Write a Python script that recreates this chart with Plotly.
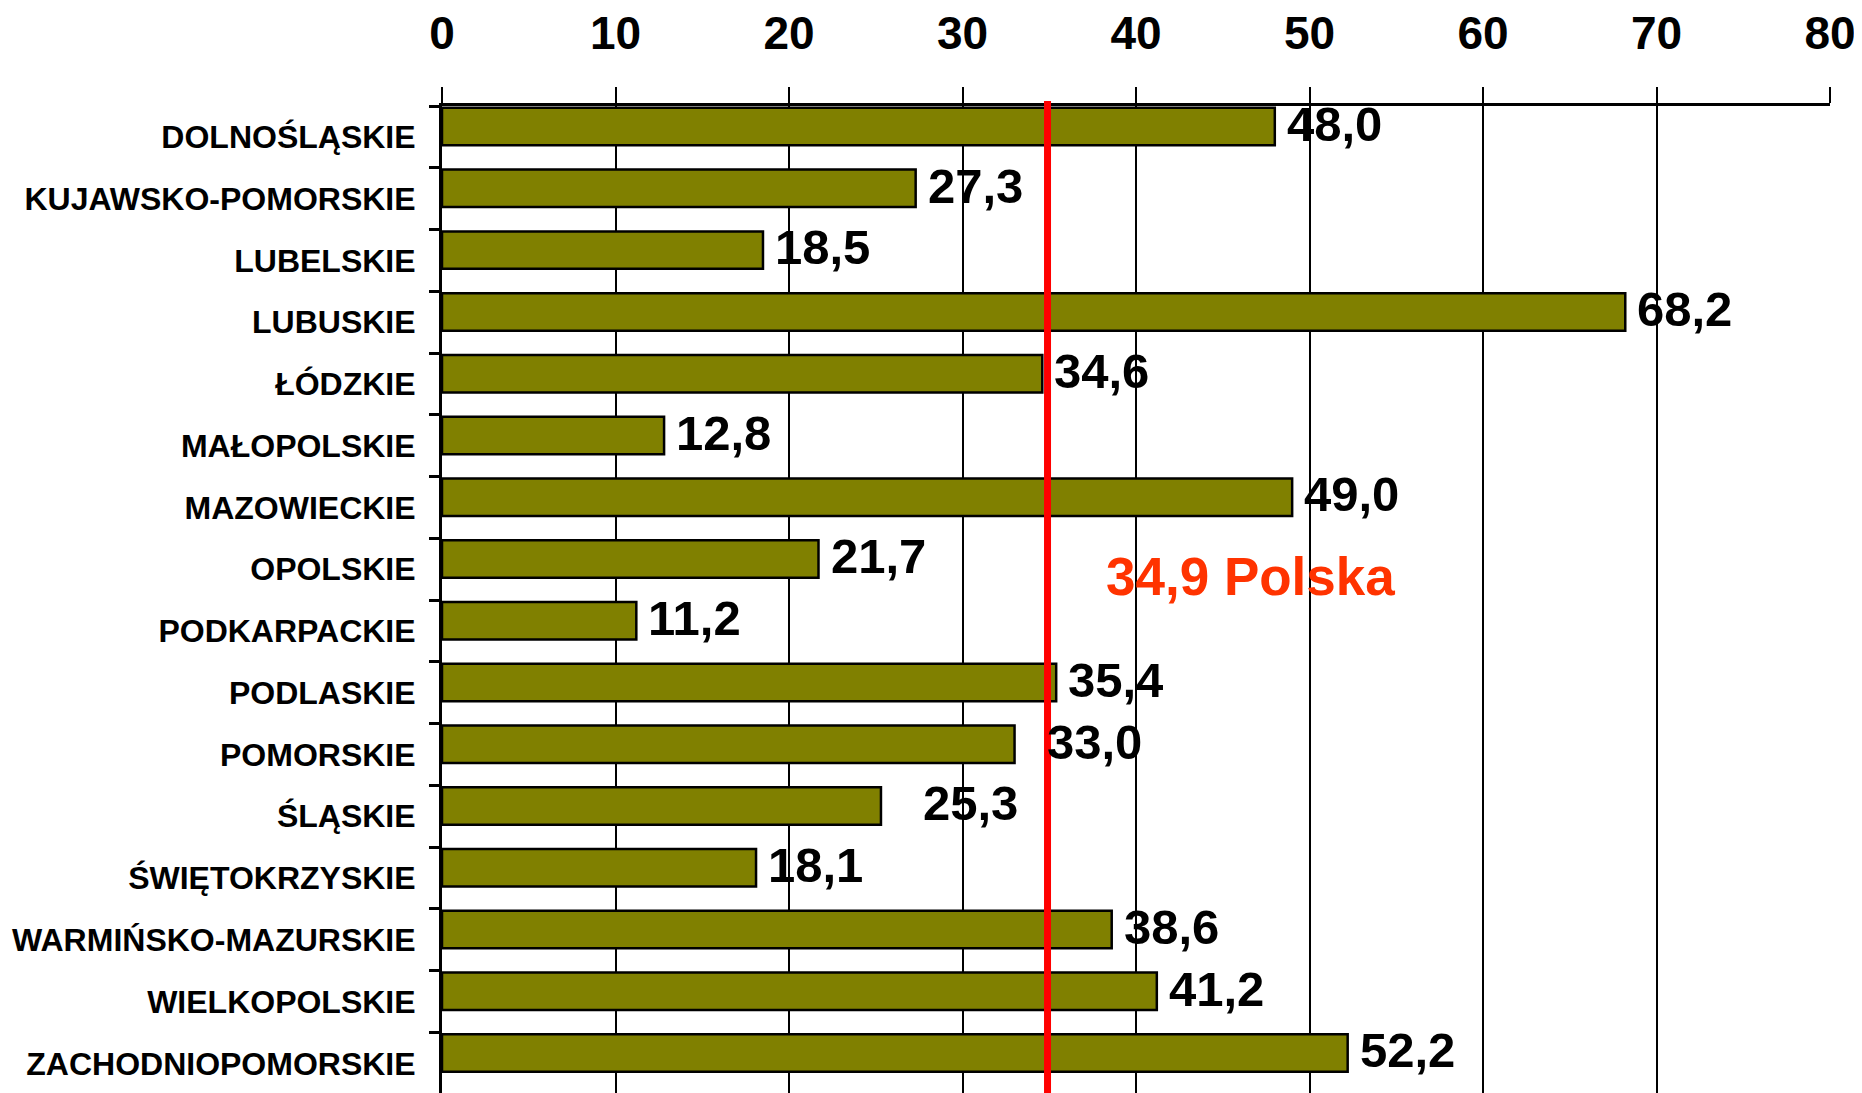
import plotly.graph_objects as go

# dane: odsetek wg województw
wojewodztwa = [
    'DOLNOŚLĄSKIE', 'KUJAWSKO-POMORSKIE', 'LUBELSKIE', 'LUBUSKIE', 'ŁÓDZKIE',
    'MAŁOPOLSKIE', 'MAZOWIECKIE', 'OPOLSKIE', 'PODKARPACKIE', 'PODLASKIE',
    'POMORSKIE', 'ŚLĄSKIE', 'ŚWIĘTOKRZYSKIE', 'WARMIŃSKO-MAZURSKIE',
    'WIELKOPOLSKIE', 'ZACHODNIOPOMORSKIE',
]
wartosci = [48.0, 27.3, 18.5, 68.2, 34.6, 12.8, 49.0, 21.7, 11.2, 35.4,
            33.0, 25.3, 18.1, 38.6, 41.2, 52.2]
polska = 34.9
x_ticks = [0, 10, 20, 30, 40, 50, 60, 70, 80]

# przesuniecia etykiet (px) - dwie etykiety sa odsuniete od slupka
label_shift = {'POMORSKIE': 30, 'ŚLĄSKIE': 40}

FONT = 'Liberation Sans, Arial, sans-serif'

fig = go.Figure(go.Bar(
    x=wartosci, y=wojewodztwa, orientation='h',
    width=0.607, offset=-0.47,
    marker=dict(color='#808000', line=dict(color='black', width=2.5)),
    hoverinfo='x+y',
))

for w, v in zip(wojewodztwa, wartosci):
    fig.add_annotation(
        x=v, y=w, xref='x', yref='y', xanchor='left', yanchor='middle',
        text=f'{v:.1f}'.replace('.', ','), showarrow=False,
        xshift=label_shift.get(w, 10), yshift=13,
        font=dict(family=FONT, size=49, color='black', weight='bold'),
    )

# linia sredniej dla Polski
fig.add_shape(type='line', xref='x', yref='paper', x0=polska, x1=polska,
              y0=0, y1=1.005, line=dict(color='#FF0000', width=7))
fig.add_annotation(
    x=38.15, y='OPOLSKIE', xref='x', yref='y', xanchor='left', yanchor='middle',
    text=f'{polska:.1f}'.replace('.', ',') + ' Polska', showarrow=False, yshift=-7,
    font=dict(family=FONT, size=53, color='#FF3300', weight='bold'),
)

fig.update_xaxes(
    side='top', range=[0, 80], tickvals=x_ticks,
    showgrid=True, gridcolor='black', gridwidth=2, zeroline=False,
    showline=True, linecolor='black', linewidth=3,
    ticks='outside', ticklen=16, tickwidth=2, tickcolor='black',
    ticklabelstandoff=20, ticklabeloverflow='allow',
    tickfont=dict(family=FONT, size=46, color='black', weight='bold'),
)
fig.update_yaxes(
    type='category', range=[15.48, -0.5], showgrid=False,
    showline=True, linecolor='black', linewidth=3,
    ticks='outside', tickson='boundaries', ticklen=10, tickwidth=3, tickcolor='black',
    ticklabelstandoff=17,
    tickfont=dict(family=FONT, size=32, color='black', weight='bold'),
)

# strona ma 8px marginesu (body), wykres przesuniety o 8px
fig.update_layout(
    width=1854, height=1085,
    margin=dict(l=434, r=32, t=98, b=0),
    plot_bgcolor='white', paper_bgcolor='white',
    showlegend=False,
)

fig.write_html('out.html')
